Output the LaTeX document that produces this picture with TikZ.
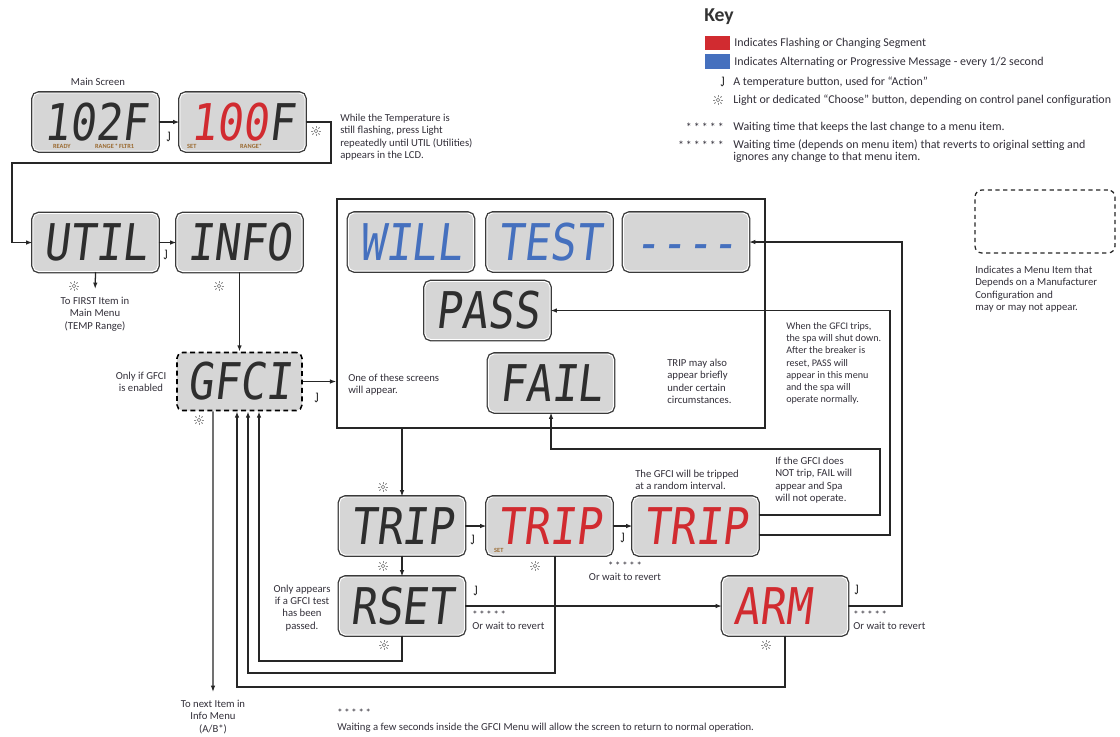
\documentclass[tikz,border=0pt]{standalone}
\usepackage{fontspec}
\setmainfont{Carlito}
\newfontfamily\lcdfont[FakeSlant=0.12,FakeStretch=0.85]{DejaVu Sans Mono}
\usetikzlibrary{arrows.meta}

\definecolor{lcdgray}{HTML}{D6D6D6}
\definecolor{lcdedge}{HTML}{3A3A3A}
\definecolor{lcdink}{HTML}{2E2E2E}
\definecolor{flashred}{HTML}{D12B30}
\definecolor{altblue}{HTML}{4570BE}
\definecolor{notecol}{HTML}{33303A}
\definecolor{tagcol}{HTML}{9A6A30}

\newcommand{\waitstars}{\raisebox{-0.35ex}{*\,*\,*\,*\,*}}
% small indicator word printed inside a display, #1 = offset from the left of the digits
\newcommand{\lcdtag}[2]{\makebox[0pt][l]{\hspace*{#1}\raisebox{-5.5pt}[0pt][0pt]{\normalfont\fontsize{4.5}{4.5}\selectfont\bfseries\color{tagcol}#2}}}

\tikzset{
  lcdbase/.style={rounded corners=4pt, fill=lcdgray, minimum width=3.125cm, minimum height=1.45cm,
    inner sep=0pt, font=\lcdfont\fontsize{36}{36}\selectfont, text height=26pt, text depth=0pt, text=lcdink},
  lcd/.style={lcdbase, draw=white, line width=0.7pt, preaction={draw=lcdedge, line width=2.6pt}},
  optlcd/.style={lcdbase, draw=black, line width=1.1pt, dash pattern=on 3.5pt off 2.5pt},
  flashing/.style={text=flashred},
  cycling/.style={text=altblue},
  note/.style={font=\fontsize{7.6}{8.7}\selectfont, text=notecol, inner sep=0pt, align=left},
  keytext/.style={font=\fontsize{8.5}{9.2}\selectfont, text=notecol, inner sep=0pt, anchor=west},
  wire/.style={line width=0.9pt, draw=black!85},
  arr/.style={wire, -{Latex[length=4.5pt,width=3.2pt]}},
  action/.pic={
    \draw[line width=0.6pt, black!80] (-1.2,-5) -- (0.4,-5) -- (0.4,2.5) arc[start angle=0, end angle=180, radius=1.3];
  },
  light/.pic={
    \draw[black!45, line width=0.5pt] (0,0) circle (1.8);
    \foreach \a in {0,45,...,315}
      \draw[black!45, line width=0.6pt] (\a:3.3) -- (\a:5.2);
  },
}

\begin{document}
\begin{tikzpicture}[x=0.025cm, y=-0.025cm]
\fill[white] (0,0) rectangle (1120,737);

% key
\node[font=\fontsize{14}{14}\selectfont\bfseries, text=black!80, anchor=west, inner sep=0pt] (keytitle) at (704,17) {Key};
\node[fill=flashred, minimum width=0.625cm, minimum height=0.35cm, inner sep=0pt] (keyred) at (717.5,43) {};
\node[fill=altblue, minimum width=0.625cm, minimum height=0.35cm, inner sep=0pt] (keyblue) at (717.5,61.5) {};
\node[keytext] (keyredtxt) at (734,43) {Indicates Flashing or Changing Segment};
\node[keytext] (keybluetxt) at (734,62) {Indicates Alternating or Progressive Message - every 1/2 second};
\pic at (723,82) {action};
\node[keytext] (keyacttxt) at (733,82) {A temperature button, used for “Action”};
\pic at (718,100) {light};
\node[keytext] (keylighttxt) at (733,100) {Light or dedicated “Choose” button, depending on control panel configuration};
\node[keytext, anchor=east] (keystarsa) at (724,127) {\waitstars};
\node[keytext] (keykeeptxt) at (733,127) {Waiting time that keeps the last change to a menu item.};
\node[keytext, anchor=east] (keystarsb) at (724,145) {\raisebox{-0.35ex}{*\,*\,*\,*\,*\,*}};
\node[keytext, anchor=north west, align=left] (keyreverttxt) at (733,139) {Waiting time (depends on menu item) that reverts to original setting and\\ignores any change to that menu item.};

% optional item key
\node[draw, wire, dash pattern=on 3pt off 2.5pt, rounded corners=5pt, minimum width=3.5cm, minimum height=1.575cm] (optkey) at (1045,221.5) {};
\node[note, anchor=north west] (optkeytxt) at (975,266) {Indicates a Menu Item that\\Depends on a Manufacturer\\Configuration and\\may or may not appear.};

% main screen
\node[note] (mainlabel) at (98,82) {Main Screen};
\node[lcd] (main) at (95.5,122) {\lcdtag{6.7pt}{READY}\lcdtag{36.6pt}{RANGE\,*\,FLTR1}102F};
\node[lcd] (setpt) at (242.5,122) {\lcdtag{-2.5pt}{SET}\lcdtag{35.2pt}{RANGE*}\textcolor{flashred}{100}F};
\pic at (169,137) {action};
\pic at (316,131) {light};
\node[note, anchor=north west] (flashnote) at (340,114) {While the Temperature is\\still flashing, press Light\\repeatedly until UTIL (Utilities)\\appears in the LCD.};

% utilities
\node[lcd] (util) at (95.5,242.5) {UTIL};
\node[lcd] (info) at (239.5,242.5) {INFO};
\pic at (166,255) {action};
\pic at (74,286) {light};
\pic at (219,286) {light};
\node[note, align=center, anchor=north] (firstitem) at (95,297) {To FIRST Item in\\Main Menu\\(TEMP Range)};

% gfci
\node[optlcd] (gfci) at (239.5,381.5) {GFCI};
\node[note, align=center] (gfcinote) at (141,382) {Only if GFCI\\is enabled};
\pic at (317,398) {action};
\pic at (199,420) {light};

% result screens
\node[draw, wire, minimum width=10.7cm, minimum height=5.725cm, inner sep=0pt] (group) at (551,313.5) {};
\node[lcd, cycling] (will) at (411,242) {WILL};
\node[lcd, cycling] (test) at (549.5,242) {TEST};
\node[lcd, cycling] (dashes) at (686,242) {----};
\node[lcd] (pass) at (487.5,310.5) {PASS};
\node[lcd] (fail) at (551,383) {FAIL};
\node[note, anchor=north west] (screensnote) at (348,374) {One of these screens\\will appear.};
\node[note, anchor=north west] (tripnote) at (667,359) {TRIP may also\\appear briefly\\under certain\\circumstances.};
\node[note, anchor=north west, font=\fontsize{7.2}{8.7}\selectfont] (breakernote) at (786,322) {When the GFCI trips,\\the spa will shut down.\\After the breaker is\\reset, PASS will\\appear in this menu\\and the spa will\\operate normally.};

% trip test
\node[lcd] (tripa) at (402,526) {TRIP};
\node[lcd, flashing] (tripb) at (549.5,526) {\lcdtag{-2.5pt}{SET}TRIP};
\node[lcd, flashing] (tripc) at (695.5,526) {TRIP};
\pic at (383,487) {light};
\pic at (473,540) {action};
\pic at (623,538) {action};
\pic at (383,566) {light};
\pic at (535,566) {light};
\node[note, anchor=north west] (randomnote) at (635,470) {The GFCI will be tripped\\at a random interval.};
\node[note, anchor=north west] (nottripnote) at (775,457) {If the GFCI does\\NOT trip, FAIL will\\appear and Spa\\will not operate.};
\node[note, align=center, anchor=north] (revertb) at (625,562) {\waitstars\\Or wait to revert};

% reset and arm
\node[lcd] (rset) at (402,606) {RSET};
\node[lcd, flashing] (arm) at (785,606) {ARM\phantom{M}};
\pic at (476,591) {action};
\pic at (384,645) {light};
\pic at (857,590) {action};
\pic at (766,645) {light};
\node[note, align=center] (rsetnote) at (302,608) {Only appears\\if a GFCI test\\has been\\passed.};
\node[note, anchor=north west] (reverta) at (472,611) {\waitstars\\Or wait to revert};
\node[note, anchor=north west] (revertc) at (853,611) {\waitstars\\Or wait to revert};

% bottom notes
\node[note, align=center, anchor=north] (nextitem) at (213,700) {To next Item in\\Info Menu\\(A/B*)};
\node[note, anchor=north west] (bottomnote) at (337,709) {\waitstars\\[2pt]Waiting a few seconds inside the GFCI Menu will allow the screen to return to normal operation.};

% connectors
\draw[arr] (main) -- (setpt);
\draw[arr] (setpt.east) -| (331,163) -- (12,163) |- (util.west);
\draw[arr] (util) -- (info);
\draw[arr, shorten >=0.2cm] (util.south) -- (firstitem.north);
\draw[arr] (info) -- (gfci);
\draw[arr] (gfci.east) -- (gfci.east -| group.west);
\draw[arr] (group.south -| tripa) -- (tripa.north);
\draw[arr] (tripa) -- (tripb);
\draw[arr] (tripb) -- (tripc);
\draw[arr] (tripa) -- (rset);
\draw[arr] (rset) -- (arm);
\coordinate (tapb) at ([xshift=0.1375cm]tripb.south);
\fill[black!85] (rset -| tapb) circle (1.8);
\draw[arr] (tapb) -- (tapb |- 0,673) -| ([xshift=0.2125cm]gfci.south);
\draw[arr] (rset.south) -- (rset.south |- 0,661) -| ([xshift=0.4875cm]gfci.south);
\draw[arr] (arm.south) -- (arm.south |- 0,687) -| ([xshift=-0.0625cm]gfci.south);
\coordinate (nextend) at (213,692);
\draw[arr] ([xshift=-0.6625cm]gfci.south) -- (nextend);
\draw[arr] ([yshift=0.275cm]tripc.east) -| (880,449) -| (fail.south);
\draw[arr] ([yshift=-0.225cm]tripc.east) -| (890,310.5) -- (pass.east);
\draw[arr] (arm.east) -| (902,242) -- (dashes.east);
\end{tikzpicture}
\end{document}
